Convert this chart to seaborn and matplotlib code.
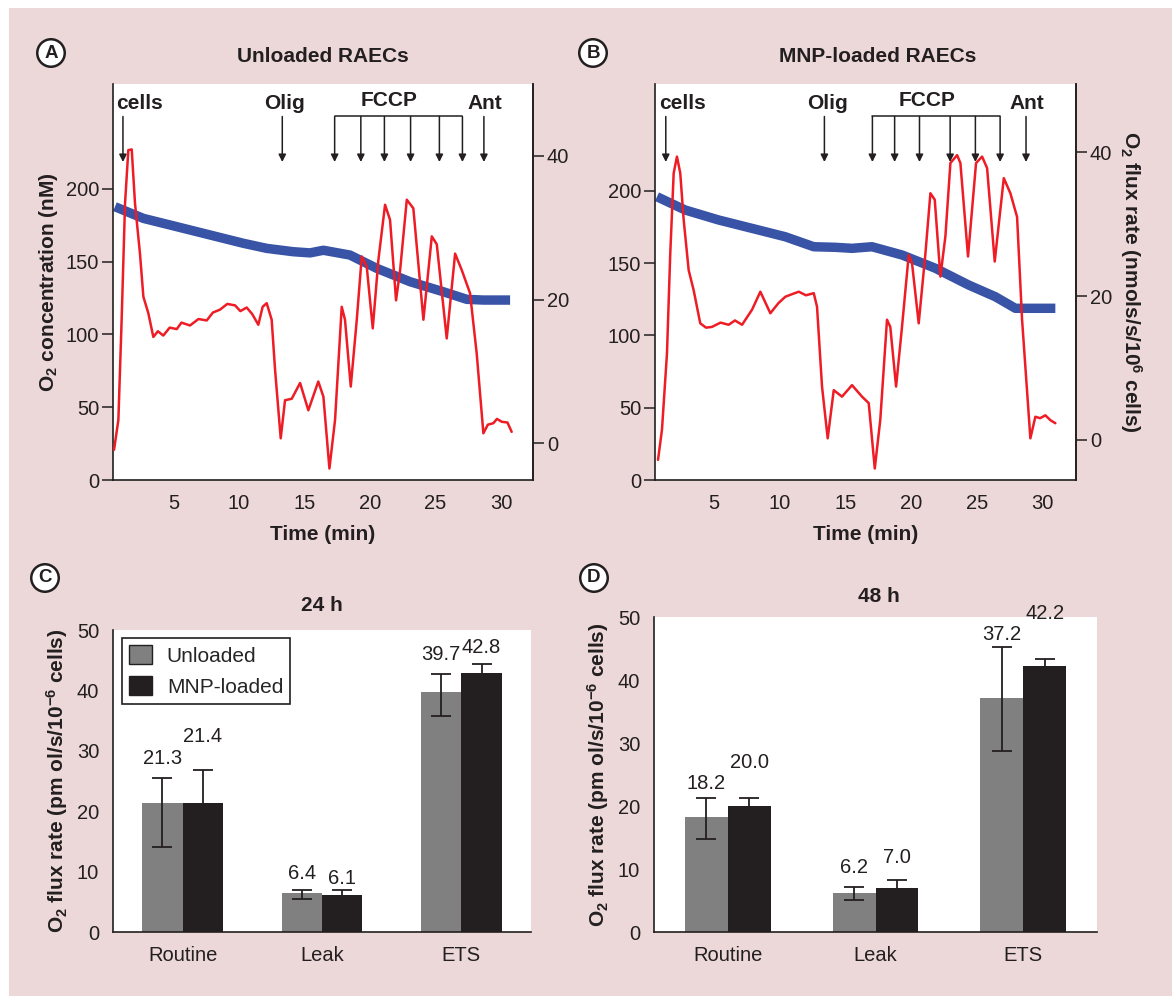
import numpy as np
import pandas as pd
import matplotlib
matplotlib.use('Agg')
import matplotlib.pyplot as plt
import matplotlib.transforms as mtransforms
from matplotlib.patches import Patch, Rectangle
import seaborn as sns

# ---- panel A (unloaded RAECs) traces ----
time_conc_a = [0.52, 2.69, 5.24, 7.78, 10.32, 12.11, 14.14, 15.42, 16.44, 18.47,
               20.51, 23.06, 25.6, 27.39, 28.66, 30.7]
conc_a = [187.7, 179.7, 174.0, 168.3, 162.6, 159.1, 156.8, 156.0, 157.8, 154.5,
          145.4, 136.2, 129.3, 124.1, 123.6, 123.6]
time_flux_a = [0.45, 0.78, 1.03, 1.29, 1.54, 1.80, 2.05, 2.43, 2.69, 3.07, 3.45, 3.8, 4.21,
               4.7, 5.24, 5.6, 6.25, 6.9, 7.53, 8.0, 8.54, 9.1, 9.69, 10.1, 10.58, 11.0,
               11.47, 11.8, 12.11, 12.49, 12.75, 13.18, 13.51, 14.02, 14.66, 15.29, 16.05,
               16.44, 16.9, 17.33, 17.84, 18.09, 18.53, 18.99, 19.37, 19.75, 20.21, 20.64,
               21.15, 21.53, 21.99, 22.3, 22.81, 23.31, 24.08, 24.72, 25.1, 25.86, 26.5,
               27.01, 27.64, 28.15, 28.66, 29.0, 29.42, 29.7, 30.06, 30.5, 30.82]
flux_a = [-0.9, 3.25, 17.2, 33.4, 40.8, 40.9, 33.4, 26.4, 20.4, 18.1, 14.8, 15.6, 15.0,
          16.1, 15.9, 16.8, 16.4, 17.3, 17.1, 18.2, 18.6, 19.4, 19.2, 18.4, 18.9, 18.0,
          16.5, 19.0, 19.5, 17.2, 10.2, 0.7, 6.0, 6.2, 8.4, 4.6, 8.6,
          6.5, -3.5, 3.25, 19.0, 17.2, 7.9, 17.2, 26.0, 24.6, 16.0, 25.5,
          33.2, 31.1, 19.9, 24.1, 33.9, 32.7, 17.2, 28.8, 27.7, 14.6, 26.4,
          24.1, 20.9, 12.5, 1.4, 2.6, 2.8, 3.4, 3.0, 2.9, 1.6]

# ---- panel B (MNP-loaded RAECs) traces ----
time_conc_b = [0.67, 2.82, 5.36, 7.9, 10.43, 12.59, 14.23, 15.5, 17.02, 19.3, 21.84, 24.37,
               26.4, 27.92, 30.96]
conc_b = [196.0, 186.8, 179.9, 174.1, 168.3, 161.4, 161.0, 160.3, 161.4, 155.7, 146.5, 134.9,
          126.8, 118.8, 118.8]
time_flux_b = [0.75, 1.05, 1.43, 1.68, 1.94, 2.19, 2.44, 2.70, 3.08, 3.46, 3.96, 4.4, 4.85,
               5.5, 6.12, 6.6, 7.14, 7.9, 8.53, 9.29, 9.9, 10.43, 11.0, 11.45, 12.0, 12.59,
               12.84, 13.22, 13.65, 14.11, 14.74, 15.5, 16.26, 16.77, 17.23, 17.65, 18.16,
               18.41, 18.85, 19.3, 19.81, 20.06, 20.57, 21.08, 21.46, 21.79, 22.22, 22.6,
               22.98, 23.49, 23.74, 24.32, 24.93, 25.39, 25.77, 26.35, 27.04, 27.54, 28.05,
               28.43, 29.06, 29.44, 29.8, 30.2, 30.6, 30.96]
flux_b = [-2.8, 1.4, 12.0, 25.9, 37.1, 39.4, 37.1, 30.6, 23.6, 20.8, 16.2, 15.6, 15.7,
          16.3, 16.0, 16.6, 16.0, 18.1, 20.6, 17.6, 19.0, 19.9, 20.3, 20.6, 20.1, 20.4,
          18.5, 7.4, 0.2, 6.9, 6.0, 7.6, 6.0, 5.1, -4.0, 2.8, 16.7,
          15.7, 7.4, 15.7, 25.7, 24.6, 16.2, 25.9, 34.3, 33.4, 22.7, 28.3,
          38.5, 39.6, 38.5, 25.5, 38.5, 39.4, 37.8, 24.8, 36.4, 34.3, 31.0,
          16.7, 0.2, 3.2, 3.0, 3.4, 2.7, 2.3]

# injection times (min)
cells_t = [1.13, 1.34]
olig_t = [13.3, 13.4]
fccp_t = [[17.3, 19.3, 21.1, 23.1, 25.3, 27.06],
          [17.05, 18.74, 20.63, 22.96, 24.88, 26.76]]
ant_t = [28.7, 28.73]

# ---- panels C/D bar data ----
states = ['Routine', 'Leak', 'ETS']
groups = ['Unloaded', 'MNP-loaded']
unl_24 = [21.3, 6.4, 39.7]
mnp_24 = [21.4, 6.1, 42.8]
unl_24_lo = [14.1, 5.5, 35.7]
unl_24_hi = [25.5, 7.0, 42.7]
mnp_24_lo = [16.0, 5.2, 41.2]
mnp_24_hi = [26.8, 7.0, 44.4]
unl_48 = [18.2, 6.2, 37.2]
mnp_48 = [20.0, 7.0, 42.2]
unl_48_lo = [14.8, 5.1, 28.7]
unl_48_hi = [21.3, 7.2, 45.2]
mnp_48_lo = [17.8, 5.4, 40.2]
mnp_48_hi = [21.2, 8.3, 43.3]

# label heights above the error caps (layout only)
pad_24 = [[3.2, 2.7, 3.3], [5.5, 1.8, 2.7]]
pad_48 = [[2.3, 3.0, 2.1], [5.7, 3.5, 7.3]]

# ---- style ----
sns.set_theme(style='white')
plt.rcParams['font.family'] = ['Liberation Sans', 'DejaVu Sans']
plt.rcParams['mathtext.fontset'] = 'custom'
plt.rcParams['mathtext.rm'] = 'Liberation Sans'
plt.rcParams['mathtext.it'] = 'Liberation Sans:italic'
plt.rcParams['mathtext.bf'] = 'Liberation Sans:bold'

INK = '#231f20'
PINK = '#ecd8d8'
BLUE = '#3953a6'
RED = '#ee1c25'
GRAY = '#808080'
FS = 15

W, H = 1172, 996
fig = plt.figure(figsize=(W / 100, H / 100), dpi=100, facecolor='white')
fig.patches.append(Rectangle((9 / W, 0), 1, (H - 8) / H, transform=fig.transFigure,
                             facecolor=PINK, edgecolor='none', zorder=-10))


def px_axes(left, top, right, bottom):
    return fig.add_axes([left / W, 1 - bottom / H, (right - left) / W, (bottom - top) / H])


def style_spines(ax, show):
    for side, sp in ax.spines.items():
        sp.set_visible(side in show)
        sp.set_color(INK)
        sp.set_linewidth(1.2)
    ax.tick_params(direction='out', length=8, width=1.1, pad=2, labelsize=FS - 0.5,
                   colors=INK, labelcolor=INK)


def trace_panel(ax, tc, conc, tf, flux, i, xlim, ylim, y2lim):
    ax.set_facecolor('white')
    sns.lineplot(x=tc, y=conc, ax=ax, color=BLUE, lw=6.8, solid_capstyle='butt')
    ax2 = ax.twinx()
    sns.lineplot(x=tf, y=flux, ax=ax2, color=RED, lw=1.8)
    ax.set_xlim(*xlim)
    ax.set_ylim(*ylim)
    ax2.set_ylim(*y2lim)
    ax.set_xticks([5, 10, 15, 20, 25, 30])
    ax.set_yticks([0, 50, 100, 150, 200])
    ax2.set_yticks([0, 20, 40])
    style_spines(ax, ['left', 'bottom', 'right'])
    style_spines(ax2, ['right'])
    ax.set_xlabel('Time (min)', fontsize=FS, fontweight='bold', labelpad=9, color=INK)
    ax.set_ylabel('')
    ax2.set_ylabel('')

    # injection arrows
    tr = mtransforms.blended_transform_factory(ax.transData, ax.transAxes)
    top, tip, lab = 0.918, 0.803, 0.952
    arrow = dict(arrowstyle='-|>', color=INK, lw=1.1, mutation_scale=11, shrinkA=0, shrinkB=0)
    for t in [cells_t[i], olig_t[i], ant_t[i]] + fccp_t[i]:
        ax.annotate('', xy=(t, tip), xytext=(t, top), xycoords=tr, textcoords=tr,
                    arrowprops=arrow)
    f = fccp_t[i]
    ax.plot([f[0], f[-1]], [top, top], transform=tr, color=INK, lw=1.1, clip_on=False)
    kw = dict(transform=tr, fontsize=FS, fontweight='bold', color=INK, va='center')
    ax.text(cells_t[i] - 0.5, lab, 'cells', ha='left', **kw)
    ax.text(olig_t[i] + 0.2, lab, 'Olig', ha='center', **kw)
    ax.text((f[0] + f[-1]) / 2 - 0.7, lab + 0.006, 'FCCP', ha='center', **kw)
    ax.text(ant_t[i] + 0.1, lab, 'Ant', ha='center', **kw)
    return ax2


axA = px_axes(113, 84, 533, 480)
trace_panel(axA, time_conc_a, conc_a, time_flux_a, flux_a, 0,
            (0.37, 32.45), (0, 272), (-5.1, 50))
axA.set_ylabel(r'O$_\mathbf{2}$ concentration (nM)', fontsize=FS, fontweight='bold',
               labelpad=4, color=INK)
axA.set_title('Unloaded RAECs', fontsize=FS, fontweight='bold', pad=16, color=INK)

axB = px_axes(655, 84, 1076, 480)
axB2 = trace_panel(axB, time_conc_b, conc_b, time_flux_b, flux_b, 1,
                   (0.52, 32.53), (0, 274), (-5.6, 49.5))
axB2.set_ylabel(r'O$_\mathbf{2}$ flux rate (nmols/s/10$^\mathbf{6}$ cells)', fontsize=FS,
                fontweight='bold', rotation=270, va='bottom', labelpad=4, color=INK)
axB.set_title('MNP-loaded RAECs', fontsize=FS, fontweight='bold', pad=16, color=INK, x=0.53)


def bar_panel(ax, unl, mnp, lo, hi, pads, title, tpad, tx):
    df = pd.DataFrame({
        'state': states * 2,
        'group': [groups[0]] * 3 + [groups[1]] * 3,
        'flux': unl + mnp,
    })
    ax.set_facecolor('white')
    sns.barplot(data=df, x='state', y='flux', hue='group', hue_order=groups,
                palette=[GRAY, INK], saturation=1, width=0.58, gap=0,
                errorbar=None, legend=False, ax=ax, linewidth=0)
    bar_sets = list(ax.containers)
    for k, cont in enumerate(bar_sets):
        vals = [unl, mnp][k]
        for j, bar in enumerate(cont):
            x = bar.get_x() + bar.get_width() / 2
            v = vals[j]
            ax.errorbar(x, v, yerr=[[v - lo[k][j]], [hi[k][j] - v]], fmt='none',
                        ecolor=INK, elinewidth=1.3, capsize=7, capthick=1.3, zorder=5)
            ax.text(x, hi[k][j] + pads[k][j], f'{v:.1f}', ha='center', va='center',
                    fontsize=FS - 0.5, color=INK)
    ax.set_xlim(-0.5, 2.5)
    ax.set_ylim(0, 50)
    ax.set_yticks([0, 10, 20, 30, 40, 50])
    style_spines(ax, ['left', 'bottom'])
    ax.set_xlabel('')
    ax.set_ylabel(r'O$_\mathbf{2}$ flux rate (pm ol/s/10$^{\mathbf{-6}}$ cells)', fontsize=FS,
                  fontweight='bold', labelpad=5, color=INK)
    ax.set_title(title, fontsize=FS, fontweight='bold', pad=tpad, color=INK, x=tx)


axC = px_axes(113, 630, 531, 932)
bar_panel(axC, unl_24, mnp_24, [unl_24_lo, mnp_24_lo], [unl_24_hi, mnp_24_hi], pad_24,
          '24 h', 14, 0.5)
handles = [Patch(facecolor=GRAY, edgecolor=INK, lw=1), Patch(facecolor=INK, edgecolor=INK, lw=1)]
leg = axC.legend(handles, groups, loc='upper left', bbox_to_anchor=(9 / 418, 1 - 8 / 302),
                 borderaxespad=0, fancybox=False, framealpha=1, edgecolor=INK, fontsize=FS,
                 handlelength=1.1, handleheight=1.0, handletextpad=0.7, labelspacing=0.5,
                 borderpad=0.35)
leg.get_frame().set_linewidth(1.2)

axD = px_axes(654, 617, 1097, 932)
bar_panel(axD, unl_48, mnp_48, [unl_48_lo, mnp_48_lo], [unl_48_hi, mnp_48_hi], pad_48,
          '48 h', 11, 0.508)

# circled panel letters
for letter, (x, y) in zip('ABCD', [(51, 53), (593, 53), (45, 578), (594, 578)]):
    fig.text(x / W, 1 - y / H, letter, ha='center', va='center', fontsize=13.5,
             fontweight='bold', color=INK,
             bbox=dict(boxstyle='circle,pad=0.28', facecolor='white', edgecolor=INK, lw=1.8))

fig.savefig('out.png', dpi=100, facecolor=fig.get_facecolor())
